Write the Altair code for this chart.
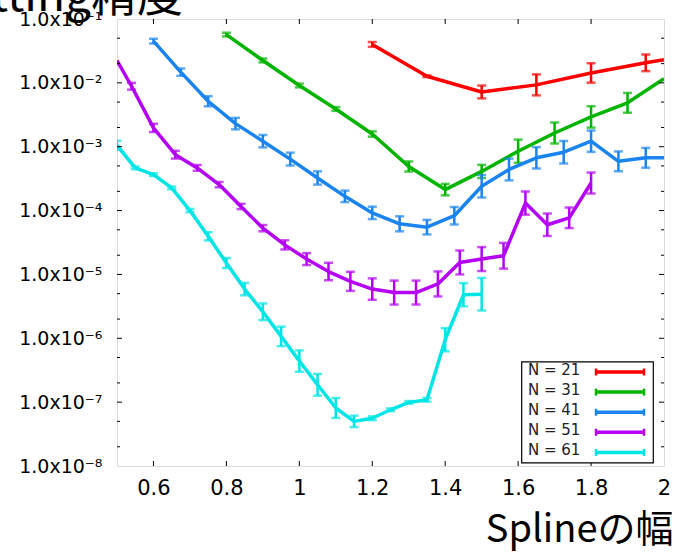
import altair as alt
import pandas as pd

# ---------------- data ----------------
labels = ["N = 21", "N = 31", "N = 41", "N = 51", "N = 61"]
colors = ["#ff0000", "#00b400", "#1a84f0", "#b400f5", "#00e6e6"]

x21 = [1.2, 1.35, 1.5, 1.65, 1.8, 1.95, 2.0]
y21 = [4.0e-2, 1.27e-2, 7.2e-3, 9.3e-3, 1.43e-2, 2.06e-2, 2.3e-2]
f21 = [1.09, 1.03, 1.26, 1.46, 1.42, 1.35, 1.0]

x31 = [0.8, 0.9, 1.0, 1.1, 1.2, 1.3, 1.4, 1.5, 1.6, 1.7, 1.8, 1.9, 2.0]
y31 = [5.7e-2, 2.24e-2, 9.1e-3, 3.9e-3, 1.58e-3, 4.9e-4, 2.13e-4, 4.1e-4,
       8.5e-4, 1.64e-3, 2.93e-3, 4.87e-3, 1.16e-2]
f31 = [1.07, 1.07, 1.07, 1.07, 1.1, 1.2, 1.23, 1.27, 1.52, 1.46, 1.47, 1.43, 1.0]

x41 = [0.6, 0.675, 0.75, 0.825, 0.9, 0.975, 1.05, 1.125, 1.2, 1.275, 1.35,
       1.425, 1.5, 1.575, 1.65, 1.725, 1.8, 1.875, 1.95, 2.0]
y41 = [4.5e-2, 1.47e-2, 5.15e-3, 2.3e-3, 1.22e-3, 6.4e-4, 3.24e-4, 1.67e-4,
       9.2e-5, 6.2e-5, 5.5e-5, 8.3e-5, 2.4e-4, 4.4e-4, 6.7e-4, 8.2e-4,
       1.22e-3, 5.9e-4, 6.7e-4, 6.7e-4]
f41 = [1.09, 1.14, 1.2, 1.23, 1.25, 1.26, 1.27, 1.23, 1.25, 1.31, 1.3,
       1.37, 1.5, 1.48, 1.47, 1.5, 1.47, 1.43, 1.43, 1.0]

x51 = [0.5, 0.54, 0.6, 0.66, 0.72, 0.78, 0.84, 0.9, 0.96, 1.02, 1.08, 1.14,
       1.2, 1.26, 1.32, 1.38, 1.44, 1.5, 1.56, 1.62, 1.68, 1.74, 1.8]
y51 = [2.24e-2, 8.85e-3, 1.97e-3, 7.5e-4, 4.66e-4, 2.55e-4, 1.16e-4, 5.3e-5,
       2.9e-5, 1.74e-5, 1.11e-5, 7.8e-6, 5.9e-6, 5.2e-6, 5.2e-6, 7.1e-6,
       1.54e-5, 1.74e-5, 1.96e-5, 1.31e-4, 6.0e-5, 7.7e-5, 2.7e-4]
f51 = [1.0, 1.13, 1.16, 1.15, 1.11, 1.1, 1.1, 1.12, 1.18, 1.24, 1.37, 1.41,
       1.47, 1.54, 1.54, 1.57, 1.54, 1.54, 1.59, 1.52, 1.5, 1.45, 1.46]

x61 = [0.5, 0.55, 0.6, 0.65, 0.7, 0.75, 0.8, 0.85, 0.9, 0.95, 1.0, 1.05,
       1.1, 1.15, 1.2, 1.25, 1.3, 1.35, 1.4, 1.45, 1.5]
y61 = [1.05e-3, 4.66e-4, 3.66e-4, 2.26e-4, 1.0e-4, 3.95e-5, 1.51e-5, 5.9e-6,
       2.6e-6, 1.07e-6, 4.4e-7, 1.87e-7, 8.1e-8, 5.0e-8, 5.6e-8, 7.6e-8,
       9.9e-8, 1.09e-7, 9.5e-7, 4.8e-6, 4.9e-6]
f61 = [1.18, 1.05, 1.05, 1.05, 1.06, 1.16, 1.2, 1.25, 1.35, 1.42, 1.47, 1.48,
       1.43, 1.23, 1.07, 1.05, 1.05, 1.07, 1.52, 1.52, 1.8]

x_tick_values = [0.6, 0.8, 1.0, 1.2, 1.4, 1.6, 1.8, 2.0]
y_tick_values = [1e-8, 1e-7, 1e-6, 1e-5, 1e-4, 1e-3, 1e-2, 1e-1]
y_minor_values = [m * d for d in [1e-8, 1e-7, 1e-6, 1e-5, 1e-4, 1e-3, 1e-2]
                  for m in (2, 5)]

title_text = "Fitting精度"
x_title = "Splineの幅"

# ---------------- layout ----------------
W, H = 547, 447
FONT = "DejaVu Sans"
CJK = "Noto Sans CJK JP"

series = [(x21, y21, f21), (x31, y31, f31), (x41, y41, f41),
          (x51, y51, f51), (x61, y61, f61)]

xscale = alt.Scale(domain=[0.5, 2.0], nice=False, zero=False)
yscale = alt.Scale(type="log", domain=[1e-8, 1e-1], nice=False)

x_axis = alt.Axis(values=x_tick_values, format="~g", title=x_title,
                  titleFont=CJK, titleFontSize=38, titleFontWeight="normal",
                  titleColor="black", titleAlign="right", titleAnchor="end",
                  titleX=556, titleY=75, titleBaseline="alphabetic",
                  labelFont=FONT, labelFontSize=21, labelColor="black",
                  labelPadding=11, ticks=False, tickSize=0, domain=False,
                  grid=False, labelFlush=False)
y_axis = alt.Axis(values=y_tick_values, title=None,
                  labelExpr="'1.0x10' + ['⁰','⁻¹','⁻²','⁻³','⁻⁴','⁻⁵','⁻⁶','⁻⁷','⁻⁸'][round(-log(datum.value)/LN10)]",
                  labelFont=FONT, labelFontSize=19, labelColor="black",
                  labelPadding=15, ticks=False, tickSize=0, domain=False,
                  grid=False, labelFlush=False)

X = lambda f: alt.X(f, type="quantitative", scale=xscale, axis=x_axis)
Y = lambda f: alt.Y(f, type="quantitative", scale=yscale, axis=y_axis)
Y2 = lambda f: alt.Y2(f)

layers = []
for (xs, ys, fs), lab, col in zip(series, labels, colors):
    df = pd.DataFrame({"x": xs, "y": ys, "f": fs})
    df["lo"] = df["y"] / df["f"]
    df["hi"] = df["y"] * df["f"]
    df["label"] = lab
    eb = df[df["f"] > 1.0]
    line = alt.Chart(df).mark_line(color=col, strokeWidth=3.5, clip=True,
                                   strokeJoin="round").encode(x=X("x"), y=Y("y"))
    bars = alt.Chart(eb).mark_rule(color=col, strokeWidth=2.5, clip=True).encode(
        x=X("x"), y=Y("lo"), y2=Y2("hi"))
    cap_lo = alt.Chart(eb).mark_tick(color=col, orient="horizontal", size=9,
                                     thickness=2.5, clip=True).encode(x=X("x"), y=Y("lo"))
    cap_hi = alt.Chart(eb).mark_tick(color=col, orient="horizontal", size=9,
                                     thickness=2.5, clip=True).encode(x=X("x"), y=Y("hi"))
    layers += [line, bars, cap_lo, cap_hi]

# inward tick marks on all four sides
xt = pd.DataFrame({"v": x_tick_values[:-1]})
ytM = pd.DataFrame({"v": y_tick_values[1:-1]})
ytm = pd.DataFrame({"v": y_minor_values})
tick_style = dict(color="black", strokeWidth=1)
layers += [
    alt.Chart(xt).mark_rule(**tick_style).encode(x=X("v"), y=alt.value(H), y2=alt.value(H - 5)),
    alt.Chart(xt).mark_rule(**tick_style).encode(x=X("v"), y=alt.value(0), y2=alt.value(5)),
    alt.Chart(ytM).mark_rule(**tick_style).encode(y=Y("v"), x=alt.value(0), x2=alt.value(5)),
    alt.Chart(ytM).mark_rule(**tick_style).encode(y=Y("v"), x=alt.value(W), x2=alt.value(W - 5)),
    alt.Chart(ytm).mark_rule(**tick_style).encode(y=Y("v"), x=alt.value(0), x2=alt.value(3)),
    alt.Chart(ytm).mark_rule(**tick_style).encode(y=Y("v"), x=alt.value(W), x2=alt.value(W - 3)),
]

# legend box (layout only)
one = pd.DataFrame({"a": [0]})
LX0, LX1, LY0, LY1 = 404.7, 536.3, 342.8, 443.8
layers.append(alt.Chart(one).mark_rect(fill="white", stroke="black", strokeWidth=1.2).encode(
    x=alt.value(LX0), x2=alt.value(LX1), y=alt.value(LY0), y2=alt.value(LY1)))
for i, (lab, col) in enumerate(zip(labels, colors)):
    ty = 350.8 + 20.1 * i
    ly = 353.0 + 20.1 * i
    layers.append(alt.Chart(one).mark_text(text=lab, align="left", baseline="middle",
                                           font=FONT, fontSize=15, color="#222222").encode(
        x=alt.value(411), y=alt.value(ty)))
    layers.append(alt.Chart(one).mark_rule(color=col, strokeWidth=3.5).encode(
        x=alt.value(479), x2=alt.value(527), y=alt.value(ly)))
    for cx in (479, 527):
        layers.append(alt.Chart(one).mark_rule(color=col, strokeWidth=2.5).encode(
            x=alt.value(cx), y=alt.value(ly - 3.5), y2=alt.value(ly + 3.5)))

# chart title (cut off by the top-left edge, as in the reference)
layers.append(alt.Chart(one).mark_text(text=title_text, align="right", baseline="alphabetic",
                                       font=CJK, fontSize=46, color="black").encode(
    x=alt.value(66), y=alt.value(-8)))

chart = alt.layer(*layers).properties(
    width=W, height=H,
    autosize=alt.AutoSizeParams(type="none"),
    padding={"left": 117, "top": 19, "right": 11, "bottom": 88},
).configure_view(stroke="black", strokeWidth=1.5).configure(background="white")

chart.save("out.html", embed_options={"renderer": "svg", "actions": False})
